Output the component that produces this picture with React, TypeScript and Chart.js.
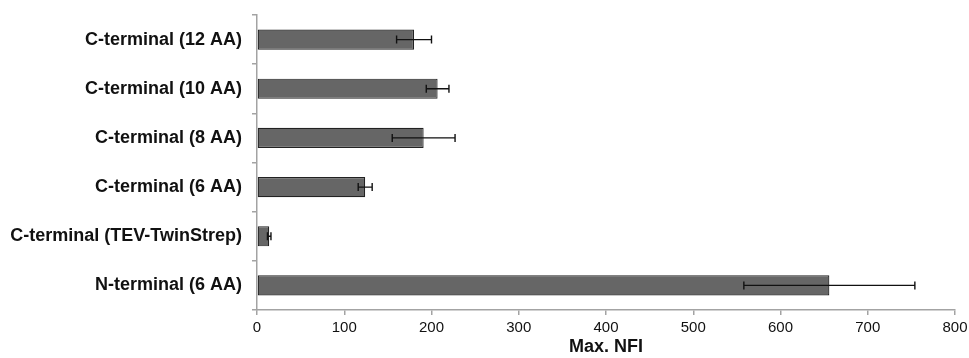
import React, { useEffect, useRef } from "react";
import { Chart, registerables } from "chart.js";

Chart.register(...registerables);

const categories: string[] = [
  "C-terminal (12 AA)",
  "C-terminal (10 AA)",
  "C-terminal (8 AA)",
  "C-terminal (6 AA)",
  "C-terminal (TEV-TwinStrep)",
  "N-terminal (6 AA)",
];
const values: number[] = [180, 207, 191, 124, 14, 656];
const errors: number[] = [20, 13, 36, 8, 2, 98];
const xTicks: number[] = [0, 100, 200, 300, 400, 500, 600, 700, 800];
const xTitle = "Max. NFI";

const FONT = "'Liberation Sans', Arial, Helvetica, sans-serif";
const AXIS_GRAY = "#a3a3a3";

const errorBarPlugin = {
  id: "errorBars",
  afterDatasetsDraw(chart: any) {
    const ctx = chart.ctx;
    const xScale = chart.scales.x;
    const meta = chart.getDatasetMeta(0);
    ctx.save();
    ctx.strokeStyle = "#111";
    ctx.lineWidth = 1.4;
    meta.data.forEach((bar: any, i: number) => {
      const v = values[i];
      const e = errors[i];
      const x1 = xScale.getPixelForValue(v - e);
      const x2 = xScale.getPixelForValue(v + e);
      const y = bar.y;
      const cap = 4;
      ctx.beginPath();
      ctx.moveTo(x1, y);
      ctx.lineTo(x2, y);
      ctx.moveTo(x1, y - cap);
      ctx.lineTo(x1, y + cap);
      ctx.moveTo(x2, y - cap);
      ctx.lineTo(x2, y + cap);
      ctx.stroke();
    });
    ctx.restore();
  },
};

export default function App() {
  const canvasRef = useRef<HTMLCanvasElement | null>(null);

  useEffect(() => {
    const canvas = canvasRef.current;
    if (!canvas) return;
    const chart = new Chart(canvas, {
      type: "bar",
      data: {
        labels: categories,
        datasets: [
          {
            data: values,
            backgroundColor: "#666666",
            borderColor: "#222222",
            borderWidth: 1.2,
            borderSkipped: false,
            barPercentage: 0.41,
            categoryPercentage: 1,
          },
        ],
      },
      options: {
        indexAxis: "y",
        responsive: false,
        animation: false,
        devicePixelRatio: 1,
        layout: { padding: { top: 15, right: 14, left: 0, bottom: 0 } },
        plugins: {
          legend: { display: false },
          tooltip: { enabled: false },
        },
        scales: {
          x: {
            type: "linear",
            min: 0,
            max: 800,
            afterBuildTicks: (scale: any) => {
              scale.ticks = xTicks.map((v) => ({ value: v }));
            },
            afterFit: (scale: any) => {
              scale.height = 48;
              scale.paddingLeft = 0;
              scale.paddingRight = 0;
            },
            grid: {
              display: true,
              drawOnChartArea: false,
              drawTicks: true,
              tickLength: 5,
              color: AXIS_GRAY,
              lineWidth: 1.5,
            },
            border: { display: true, color: AXIS_GRAY, width: 1.5 },
            ticks: {
              color: "#111",
              font: { family: FONT, size: 15 },
              padding: 4,
              maxRotation: 0,
            },
            title: {
              display: true,
              text: xTitle,
              color: "#111",
              font: { family: FONT, size: 18, weight: "bold" },
              padding: { top: 0, bottom: 0 },
            },
          },
          y: {
            type: "category",
            afterFit: (scale: any) => {
              scale.width = 257;
              scale.paddingTop = 0;
              scale.paddingBottom = 0;
            },
            grid: {
              display: true,
              offset: true,
              drawOnChartArea: false,
              drawTicks: true,
              tickLength: 5,
              color: AXIS_GRAY,
              lineWidth: 1.5,
            },
            border: { display: true, color: AXIS_GRAY, width: 1.5 },
            ticks: {
              color: "#111",
              font: { family: FONT, size: 18, weight: "bold" },
              padding: 10,
            },
          },
        },
      },
      plugins: [errorBarPlugin],
    } as any);
    return () => chart.destroy();
  }, []);

  return (
    <div style={{ position: "absolute", left: 0, top: 0, width: 969, height: 358, background: "#fff" }}>
      <canvas ref={canvasRef} width={969} height={358} style={{ display: "block" }} />
    </div>
  );
}
